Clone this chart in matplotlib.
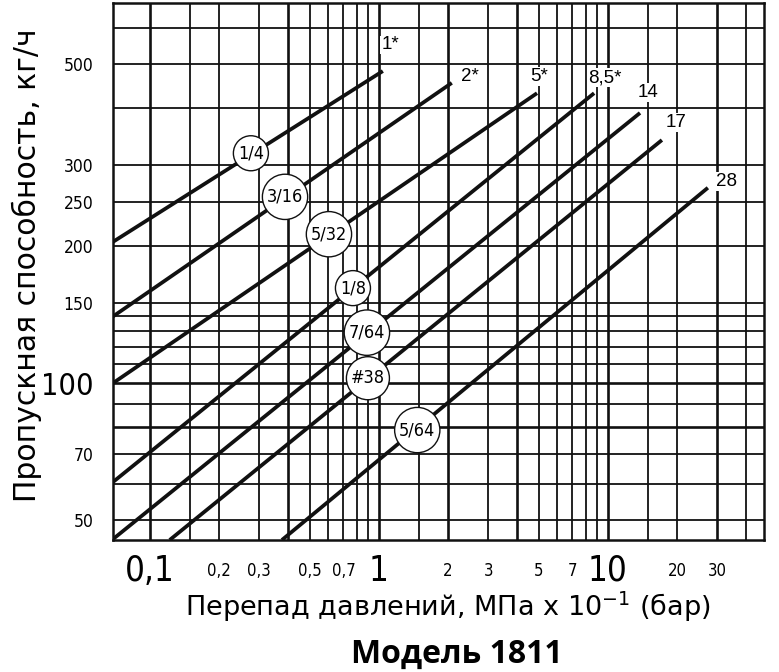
import matplotlib
matplotlib.use("Agg")
import matplotlib.pyplot as plt
import numpy as np

# ---------------- data ----------------
orifice_labels = ['1/4', '3/16', '5/32', '1/8', '7/64', '#38', '5/64']
end_labels = ['1*', '2*', '5*', '8,5*', '14', '17', '28']
x_start = [0.069, 0.069, 0.069, 0.069, 0.069, 0.122, 0.377]
y_start = [204, 140, 100, 60.7, 45.5, 45.3, 45.3]
x_end = [1.04, 2.08, 4.9, 8.7, 13.8, 17.2, 27.3]
y_end = [483, 455, 432, 432, 391, 341, 268]

# circle label positions (on lines)
circ_x = [0.276, 0.389, 0.605, 0.77, 0.886, 0.895, 1.47]
circ_y = [319, 256, 212, 161.5, 129, 102.5, 78.9]
# end label positions
end_x = [1.12, 2.5, 5.0, 9.7, 14.9, 19.8, 32.8]
end_y = [551, 469, 469, 467, 433, 372, 277]

x_grid = [0.1, 0.15, 0.2, 0.3, 0.4, 0.5, 0.6, 0.7, 0.8, 0.9, 1, 1.5, 2, 3, 4, 5,
          6, 7, 8, 9, 10, 15, 20, 30, 40]
y_grid = [50, 60, 70, 80, 90, 100, 110, 120, 130, 140, 150, 200, 250, 300, 400, 500, 600]
x_thick = [0.1, 0.4, 1, 2, 4, 10, 30]
y_thick = [80, 100]

x_ticks = [0.1, 0.2, 0.3, 0.5, 0.7, 1, 2, 3, 5, 7, 10, 20, 30]
x_ticklabels = ['0,1', '0,2', '0,3', '0,5', '0,7', '1', '2', '3', '5', '7', '10', '20', '30']
x_big = ['0,1', '1', '10']
y_ticks = [50, 70, 100, 150, 200, 250, 300, 500]
y_ticklabels = ['50', '70', '100', '150', '200', '250', '300', '500']
y_big = ['100']

xlabel = 'Перепад давлений, МПа х 10$^{-1}$ (бар)'
ylabel = 'Пропускная способность, кг/ч'
title = 'Модель 1811'

# ---------------- figure ----------------
W, H = 779, 672
fig = plt.figure(figsize=(W / 100, H / 100), dpi=100)
ax = fig.add_axes([113 / W, 1 - 540 / H, (764 - 113) / W, (540 - 3) / H])
ax.set_xscale('log')
ax.set_yscale('log')
ax.set_xlim(0.069, 48)
ax.set_ylim(45.3, 681)

for xv in x_grid:
    ax.axvline(xv, color='#111111', lw=1.9 if xv in x_thick else 1.3, zorder=1)
for yv in y_grid:
    ax.axhline(yv, color='#111111', lw=1.9 if yv in y_thick else 1.3, zorder=1)

for s in ax.spines.values():
    s.set_linewidth(1.8)
    s.set_color('#111111')

narrow_fp = dict(family=['DejaVu Sans'], stretch='condensed')
label_font = ['DejaVu Sans']

for i in range(len(orifice_labels)):
    ax.plot([x_start[i], x_end[i]], [y_start[i], y_end[i]], color='#111111',
            lw=2.7, solid_capstyle='butt', zorder=3, clip_on=True)
    ax.text(circ_x[i], circ_y[i], orifice_labels[i], ha='center', va='center',
            fontsize=13, zorder=5, **narrow_fp,
            bbox=dict(boxstyle='circle,pad=0.25', fc='white', ec='#111111', lw=1.0))
    ax.text(end_x[i], end_y[i], end_labels[i], ha='center', va='center',
            fontsize=13.5, family=['Liberation Sans', 'DejaVu Sans'], zorder=5,
            bbox=dict(boxstyle='square,pad=0.05', fc='white', ec='none'))

ax.set_xticks(x_ticks)
ax.set_xticklabels(x_ticklabels)
ax.xaxis.set_minor_locator(matplotlib.ticker.NullLocator())
ax.set_yticks(y_ticks)
ax.set_yticklabels(y_ticklabels)
ax.yaxis.set_minor_locator(matplotlib.ticker.NullLocator())
ax.tick_params(axis='x', length=0, pad=22)
ax.tick_params(axis='y', length=0, pad=14)
for lab in ax.get_xticklabels():
    lab.set_family(narrow_fp['family'])
    lab.set_stretch('condensed')
    lab.set_va('center')
    lab.set_fontsize(25 if lab.get_text() in x_big else 12)
for lab in ax.get_yticklabels():
    lab.set_family(narrow_fp['family'])
    lab.set_stretch('condensed')
    lab.set_fontsize(22 if lab.get_text() in y_big else 12.5)

fig.text(27 / W, 1 - 265 / H, ylabel, rotation=90, ha='center', va='center',
         fontsize=21.5, family=label_font)
fig.text(448 / W, 1 - 607 / H, xlabel, ha='center', va='center',
         fontsize=19.5, family=label_font)
fig.text(457 / W, 1 - 654 / H, title, ha='center', va='center',
         fontsize=23, fontweight='bold', family=['Open Sans', 'DejaVu Sans'])

fig.savefig('out.png', dpi=100, facecolor='white')
